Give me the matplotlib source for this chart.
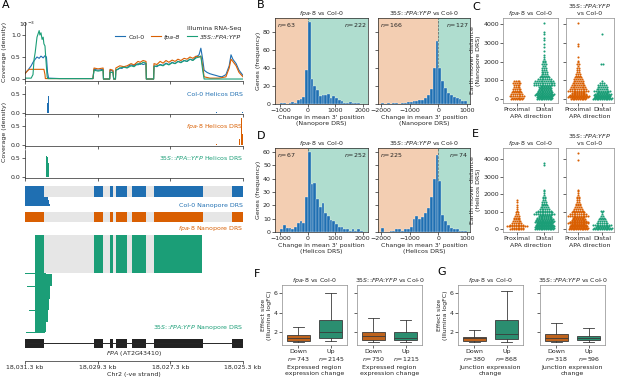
import numpy as np
import matplotlib
matplotlib.use('Agg')
import matplotlib.pyplot as plt

# ---------------- data ----------------
# panel A: positions are kb along the region (0 = 18,031.3 kb, -ve strand)
REGION_TICKS = [0, 2, 4, 6]
REGION_TICK_LABELS = ['18,031.3 kb', '18,029.3 kb', '18,027.3 kb', '18,025.3 kb']

# Illumina coverage (x 1e-3)
COL0_X = [0.00, 0.08, 0.17, 0.22, 0.28, 0.33, 0.39, 0.44, 0.50, 0.55, 0.59, 0.62, 0.65, 0.96, 1.51, 1.87,
          1.90, 2.01, 2.15, 2.16, 2.33, 2.34, 2.42, 2.44, 2.49, 2.50, 2.56, 2.61, 2.67, 2.72, 2.81, 2.86,
          2.92, 3.00, 3.06, 3.11, 3.17, 3.25, 3.33, 3.34, 3.54, 3.55, 3.63, 3.72, 3.80, 3.88, 3.96, 4.05,
          4.13, 4.21, 4.29, 4.38, 4.46, 4.54, 4.62, 4.71, 4.79, 4.84, 4.89, 4.93, 5.01, 5.09, 5.17, 5.26,
          5.34, 5.42, 5.53, 5.62, 5.67, 5.72, 5.81, 5.89, 6.00]
COL0_Y = [0.13, 0.2, 0.3, 0.38, 0.45, 0.5, 0.47, 0.52, 0.48, 0.53, 0.5, 0.15, 0.02, 0.01, 0.01, 0.01,
          0.22, 0.2, 0.22, 0.0, 0.0, 0.2, 0.18, 0.0, 0.0, 0.2, 0.22, 0.25, 0.24, 0.28, 0.26, 0.3,
          0.32, 0.3, 0.34, 0.32, 0.36, 0.33, 0.35, 0.0, 0.0, 0.3, 0.28, 0.33, 0.31, 0.36, 0.33, 0.38,
          0.35, 0.4, 0.38, 0.42, 0.4, 0.45, 0.43, 0.5, 0.55, 0.7, 0.45, 0.2, 0.15, 0.12, 0.1, 0.08,
          0.06, 0.05, 0.1, 0.3, 0.55, 0.45, 0.35, 0.2, 0.08]
FPA8_X = [0.00, 0.06, 0.11, 0.52, 0.55, 0.56, 1.87, 1.90, 2.01, 2.15, 2.16, 2.33, 2.34, 2.42, 2.44, 2.49,
          2.50, 2.61, 2.72, 2.81, 2.92, 3.00, 3.11, 3.17, 3.25, 3.33, 3.34, 3.54, 3.55, 3.63, 3.72, 3.80,
          3.88, 3.96, 4.05, 4.13, 4.21, 4.29, 4.38, 4.46, 4.54, 4.62, 4.71, 4.79, 4.84, 4.89, 4.93, 5.09,
          5.34, 5.53, 5.62, 5.67, 5.72, 5.81, 5.89, 6.00]
FPA8_Y = [0.12, 0.18, 0.22, 0.22, 0.1, 0.01, 0.01, 0.25, 0.23, 0.25, 0.0, 0.0, 0.22, 0.2, 0.0, 0.0,
          0.25, 0.3, 0.28, 0.3, 0.35, 0.32, 0.4, 0.38, 0.42, 0.4, 0.0, 0.0, 0.35, 0.33, 0.4, 0.36,
          0.42, 0.38, 0.43, 0.4, 0.45, 0.42, 0.47, 0.45, 0.5, 0.47, 0.52, 0.5, 0.52, 0.3, 0.05, 0.02,
          0.02, 0.05, 0.25, 0.45, 0.4, 0.3, 0.15, 0.05]
S35_X = [0.00, 0.17, 0.22, 0.25, 0.28, 0.33, 0.39, 0.41, 0.44, 0.47, 0.50, 0.52, 0.55, 0.57, 0.61, 0.63,
         1.87, 1.90, 2.01, 2.15, 2.16, 2.33, 2.34, 2.42, 2.44, 2.49, 2.50, 2.61, 2.72, 2.81, 2.92, 3.00,
         3.11, 3.17, 3.25, 3.33, 3.34, 3.54, 3.55, 3.63, 3.72, 3.80, 3.88, 3.96, 4.05, 4.13, 4.21, 4.29,
         4.38, 4.46, 4.54, 4.62, 4.71, 4.79, 4.84, 4.89, 4.93, 6.00]
S35_Y = [0.02, 0.02, 0.1, 0.45, 0.6, 0.95, 1.1, 1.0, 1.05, 0.9, 0.95, 0.8, 0.75, 0.5, 0.05, 0.01,
         0.01, 0.2, 0.18, 0.2, 0.0, 0.0, 0.15, 0.15, 0.0, 0.0, 0.2, 0.25, 0.27, 0.25, 0.3, 0.28,
         0.35, 0.33, 0.38, 0.36, 0.0, 0.0, 0.28, 0.3, 0.32, 0.3, 0.35, 0.32, 0.37, 0.35, 0.4, 0.37,
         0.42, 0.4, 0.45, 0.42, 0.48, 0.5, 0.52, 0.2, 0.0, 0.0]

# Helicos DRS 3' end density
COL0_HEL_X = [0.61, 0.64, 5.01, 5.26, 5.98]
COL0_HEL_Y = [0.26, 0.45, 0.02, 0.02, 0.03]
FPA8_HEL_X = [3.44, 5.28, 5.90, 5.95, 5.97, 5.99]
FPA8_HEL_Y = [0.05, 0.03, 0.15, 0.7, 0.4, 0.3]
S35_HEL_X = [0.59, 0.62, 0.65]
S35_HEL_Y = [0.55, 0.52, 0.37]

# gene model exons (kb along region)
EXONS = [(0.00, 0.52), (1.90, 2.15), (2.34, 2.42), (2.50, 2.81), (2.95, 3.33), (3.55, 4.90), (5.70, 6.00)]

# nanopore read groups: (start, end, number of reads, spliced)
COL0_READS = [(0.00, 6.00, 10, True), (0.00, 0.62, 3, False), (0.00, 0.66, 3, False), (0.00, 0.70, 2, False)]
FPA8_READS = [(0.00, 6.00, 9, True)]
S35_READS = [(0.28, 4.88, 38, True), (0.00, 0.58, 1, False), (0.28, 0.74, 12, False), (0.05, 0.70, 1, False),
             (0.28, 0.70, 12, False), (0.28, 0.66, 11, False), (0.10, 0.62, 1, False), (0.28, 0.62, 11, False),
             (0.28, 0.58, 10, False), (0.02, 0.55, 1, False)]

# panels B / D: histograms of change in mean 3' position (bins of 100 nt)
BIN_W = 100
B_FPA8_START = -1000
B_FPA8 = [1, 1, 0, 1, 2, 1, 4, 5, 7, 38, 92, 27, 20, 15, 8, 9, 10, 11, 6, 8, 6, 4, 3, 1, 1, 2, 1, 1, 1, 0]
B_S35_START = -2000
B_S35 = [1, 0, 1, 0, 1, 1, 0, 1, 1, 2, 2, 3, 3, 4, 4, 6, 10, 16, 40, 70, 40, 25, 17, 12, 9, 7, 6, 5, 3, 3]
D_FPA8_START = -1000
D_FPA8 = [2, 5, 3, 3, 2, 4, 7, 8, 7, 26, 60, 36, 37, 25, 19, 22, 14, 12, 9, 8, 6, 4, 4, 2, 2, 1, 2, 1, 2, 1]
D_S35_START = -2000
D_S35 = [3, 0, 0, 1, 1, 2, 2, 1, 2, 2, 4, 10, 12, 10, 11, 14, 18, 26, 40, 58, 38, 13, 8, 5, 3, 2, 2, 1, 1, 1]
N_B = [('63', '222'), ('166', '127')]
N_D = [('67', '252'), ('225', '74')]

# panels C / E: earth mover distance, counts per 100-unit bin
EMD_BIN = 100
C_FPA8_PROX = [14, 9, 7, 6, 5, 5, 4, 4, 5, 4]
C_FPA8_DIST = [26, 25, 22, 18, 16, 14, 13, 12, 12, 11, 8, 6, 5, 4, 4, 3, 3, 2, 3, 2, 2, 1, 1, 1, 0, 1, 0, 1,
               0, 1, 0, 1, 1, 0, 1, 1, 0, 0, 0, 0, 1]
C_S35_PROX = [26, 24, 19, 15, 12, 10, 9, 8, 7, 6, 5, 4, 3, 3, 2, 2, 2, 1, 2, 1, 1, 0, 1, 0, 0, 0, 0, 0,
              1, 1, 0, 0, 0, 0, 0, 0, 0, 0, 0, 0, 1]
C_S35_DIST = [31, 27, 20, 14, 10, 7, 6, 5, 3, 1, 0, 0, 0, 0, 0, 0, 0, 0, 2, 0, 0, 0, 0, 0, 0, 0, 0, 0,
              0, 0, 0, 0, 0, 0, 1]
E_FPA8_PROX = [15, 12, 8, 6, 5, 4, 4, 3, 2, 2, 1, 1, 1, 1, 0, 1, 1]
E_FPA8_DIST = [31, 31, 29, 25, 22, 20, 17, 14, 12, 10, 8, 6, 5, 4, 3, 3, 2, 2, 2, 1, 1, 1, 1, 0, 0, 0,
               0, 0, 0, 0, 0, 0, 0, 0, 0, 0, 1, 1]
E_S35_PROX = [32, 30, 26, 23, 19, 16, 14, 12, 10, 8, 7, 5, 4, 3, 3, 2, 2, 2, 2, 1, 1, 1, 1, 0, 0, 0,
              0, 0, 0, 0, 0, 0, 0, 0, 0, 0, 0, 0, 0, 1, 0, 0, 0, 1]
E_S35_DIST = [22, 16, 11, 7, 5, 4, 3, 2, 1, 1, 2]

# panels F / G: effect size box stats (whislo, q1, med, q3, whishi)
F_FPA8 = [(1.0, 1.08, 1.42, 1.66, 2.5), (1.05, 1.35, 2.0, 3.24, 6.04)]
F_S35 = [(1.0, 1.18, 1.62, 2.03, 3.4), (1.0, 1.18, 1.42, 1.97, 3.23)]
G_FPA8 = [(1.0, 1.1, 1.35, 1.52, 2.2), (1.0, 1.25, 1.76, 3.23, 6.2)]
G_S35 = [(1.0, 1.1, 1.42, 1.77, 2.9), (1.0, 1.18, 1.42, 1.62, 2.38)]
N_F = [('743', '2145'), ('750', '1215')]
N_G = [('380', '868'), ('318', '596')]

# ---------------- style ----------------
W, H = 617, 381
plt.rcParams.update({
    'font.family': 'DejaVu Sans', 'font.size': 4.5,
    'axes.linewidth': 0.5, 'axes.edgecolor': '.15',
    'xtick.major.size': 2, 'ytick.major.size': 2,
    'xtick.major.width': 0.5, 'ytick.major.width': 0.5,
    'xtick.major.pad': 1, 'ytick.major.pad': 1,
    'text.color': '.15', 'xtick.color': '.15', 'ytick.color': '.15', 'axes.labelcolor': '.15',
    'mathtext.default': 'it', 'axes.labelpad': 1.5, 'axes.titlepad': 2.5,
    'axes.titlesize': 4.5, 'axes.labelsize': 4.5,
})
BLUE = '#1f6fb2'
ORANGE = '#d95f02'
GREEN = '#1b9e77'
BOX_ORANGE = '#be631d'
BOX_GREEN = '#2b8e70'
FPA8_T = r'$fpa$-8'
S35_T = r'$35S$::$FPA$:$YFP$'

fig = plt.figure(figsize=(W / 100, H / 100), dpi=100)


def px_axes(l, t, r, b):
    return fig.add_axes([l / W, 1 - b / H, (r - l) / W, (b - t) / H])


def fig_text(x, y, s, **kw):
    return fig.text(x / W, 1 - y / H, s, **kw)


for lab, x, y in [('A', 2, 0), ('B', 257, 0), ('C', 472, 2), ('D', 257, 131), ('E', 472, 129),
                  ('F', 254, 269), ('G', 437, 267)]:
    fig_text(x, y, lab, fontsize=8, ha='left', va='top', color='k')

# ---------------- panel A ----------------
ax = px_axes(25, 22, 243, 81)
ax.plot(COL0_X, COL0_Y, color=BLUE, lw=0.8, label='Col-0')
ax.plot(FPA8_X, FPA8_Y, color=ORANGE, lw=0.8, label='fpa-8')
ax.plot(S35_X, S35_Y, color=GREEN, lw=0.8, label='35S::FPA:YFP')
ax.set_xlim(0, 6)
ax.set_ylim(-0.045, 1.295)
ax.set_yticks([0, 0.5, 1.0])
ax.set_xticks(REGION_TICKS)
ax.set_xticklabels([])
ax.spines[['top', 'right']].set_visible(False)
leg = ax.legend(loc='upper right', bbox_to_anchor=(0.99, 0.93), ncol=3, frameon=False,
                title='Illumina RNA-Seq', alignment='right', handlelength=1.6, handletextpad=0.5,
                columnspacing=1.0, borderaxespad=0, borderpad=0, fontsize=4.5, title_fontsize=4.5)
for t in leg.get_texts()[1:]:
    t.set_fontstyle('italic')
fig_text(19, 24, r'$\mathregular{10^{-3}}$', ha='left', va='center')
fig_text(5, 52, 'Coverage (density)', rotation=90, ha='center', va='center')
fig_text(5, 132, 'Coverage (density)', rotation=90, ha='center', va='center')

hel = [(COL0_HEL_X, COL0_HEL_Y, BLUE, 'Col-0 Helicos DRS', 86),
       (FPA8_HEL_X, FPA8_HEL_Y, ORANGE, FPA8_T + ' Helicos DRS', 118),
       (S35_HEL_X, S35_HEL_Y, GREEN, r'$35S$::$FPA$::$YFP$ Helicos DRS', 150)]
for xs, ys, c, lab, top in hel:
    a = px_axes(25, top, 243, top + 28)
    a.bar(xs, ys, width=0.025, color=c, lw=0)
    a.set_xlim(0, 6)
    a.set_ylim(-0.026, 0.71)
    a.set_yticks([0, 0.5])
    a.set_xticks(REGION_TICKS)
    a.set_xticklabels([])
    a.spines[['top', 'right']].set_visible(False)
    a.text(1.0, 0.7, lab, transform=a.transAxes, ha='right', va='center', color=c)

nano = [(COL0_READS, BLUE, 186, 206, 'Col-0 Nanopore DRS', 205),
        (FPA8_READS, ORANGE, 212, 222, FPA8_T + ' Nanopore DRS', 228),
        (S35_READS, GREEN, 235, 333, r'$35S$::$FPA$:$YFP$ Nanopore DRS', 327)]
for reads, c, top, bot, lab, ly in nano:
    a = px_axes(25, top, 243, bot)
    row = 0
    for s, e, n, spliced in reads:
        if spliced:
            a.broken_barh([(s, e - s)], (row, n), color='#e6e6e6', lw=0)
            segs = [(max(s, x0), min(e, x1) - max(s, x0)) for x0, x1 in EXONS if min(e, x1) > max(s, x0)]
            a.broken_barh(segs, (row, n), color=c, lw=0)
        else:
            a.broken_barh([(s, e - s)], (row, n), color=c, lw=0)
        row += n
    a.set_xlim(0, 6)
    a.set_ylim(row, 0)
    a.axis('off')
    fig_text(243, ly, lab, ha='right', va='center', color=c)

a = px_axes(25, 336, 243, 361)
a.plot([0, 6], [0.72, 0.72], color='.15', lw=0.7)
a.broken_barh([(x0, x1 - x0) for x0, x1 in EXONS], (0.54, 0.36), color='#222222', lw=0)
a.text(3.0, 0.28, r'$FPA$ (AT2G43410)', ha='center', va='center')
a.set_xlim(0, 6)
a.set_ylim(0, 1)
a.set_xticks(REGION_TICKS)
a.set_xticklabels(REGION_TICK_LABELS)
a.set_yticks([])
a.spines[['top', 'right', 'left']].set_visible(False)
a.set_xlabel('Chr2 (-ve strand)', labelpad=1)


# ---------------- panels B / D ----------------
def hist_panel(a, start, counts, xlim, ylim, yticks, xticks, n_pair):
    edges = start + BIN_W * np.arange(len(counts) + 1)
    a.axvspan(xlim[0], 0, color=ORANGE, alpha=0.3, lw=0, zorder=0)
    a.axvspan(0, xlim[1], color=GREEN, alpha=0.35, lw=0, zorder=0)
    a.axvline(0, color='.35', ls='--', lw=0.5, zorder=0.5)
    a.bar(edges[:-1], counts, width=BIN_W, align='edge', color=BLUE, edgecolor='white', lw=0.2, zorder=1)
    a.set_xlim(*xlim)
    a.set_ylim(*ylim)
    a.set_yticks(yticks)
    a.set_xticks(xticks)
    a.text(0.02, 0.92, r'$n$=' + n_pair[0], transform=a.transAxes, ha='left', va='center')
    a.text(0.98, 0.92, r'$n$=' + n_pair[1], transform=a.transAxes, ha='right', va='center')


for row, (t, b, data, ylim, yticks, nn, lab2) in enumerate([
        (18, 103.5, [(B_FPA8_START, B_FPA8), (B_S35_START, B_S35)], (0, 96), [0, 20, 40, 60, 80], N_B,
         '(Nanopore DRS)'),
        (148, 232, [(D_FPA8_START, D_FPA8), (D_S35_START, D_S35)], (0, 63), [0, 10, 20, 30, 40, 50, 60], N_D,
         '(Helicos DRS)')]):
    a1 = px_axes(275, t, 368, b)
    hist_panel(a1, data[0][0], data[0][1], (-1200, 2200), ylim, yticks, [-1000, 0, 1000, 2000], nn[0])
    a1.set_title(FPA8_T + ' vs Col-0')
    a1.set_ylabel('Genes (frequency)')
    a1.set_xlabel("Change in mean 3' position\n" + lab2)
    a2 = px_axes(378, t, 470, b)
    hist_panel(a2, data[1][0], data[1][1], (-2100, 1100), ylim, yticks, [-2000, -1000, 0, 1000], nn[1])
    a2.set_yticklabels([])
    a2.set_title(S35_T + ' vs Col-0')
    a2.set_xlabel("Change in mean 3' position\n" + lab2)


# ---------------- panels C / E ----------------
def swarm(a, xpos, counts, color, width_px):
    dx = 1.8 * 2.0 / width_px
    maxn = 12
    xs, ys = [], []
    for b, c in enumerate(counts):
        if c == 0:
            continue
        k = -(-c // maxn)
        per = -(-c // k)
        for r in range(k):
            m = min(per, c - r * per)
            shift = 0.5 * dx * (r % 2)
            xs.extend(xpos + shift + (np.arange(m) - (m - 1) / 2) * dx)
            ys.extend([b * EMD_BIN + (r + 0.5) * EMD_BIN / k] * m)
    a.plot(xs, ys, 'o', ms=1.5, mew=0, color=color)


for t, b, ylim, sets, lab in [
        (18, 103, (-213, 4320), [(C_FPA8_PROX, C_FPA8_DIST), (C_S35_PROX, C_S35_DIST)], '(Nanopore DRS)'),
        (148, 232, (-171, 4630), [(E_FPA8_PROX, E_FPA8_DIST), (E_S35_PROX, E_S35_DIST)], '(Helicos DRS)')]:
    for i, (l, r) in enumerate([(503, 558), (566, 614)]):
        a = px_axes(l, t, r, b)
        swarm(a, 0, sets[i][0], ORANGE, r - l)
        swarm(a, 1, sets[i][1], GREEN, r - l)
        a.set_xlim(-0.5, 1.5)
        a.set_ylim(*ylim)
        a.set_yticks([0, 1000, 2000, 3000, 4000])
        a.set_xticks([0, 1])
        a.set_xticklabels(['Proximal', 'Distal'])
        a.set_xlabel('APA direction')
        for sp in a.spines.values():
            sp.set_color('.55')
        if i == 0:
            a.set_title(FPA8_T + ' vs Col-0')
            a.set_ylabel('Earth mover distance\n' + lab)
        else:
            a.set_yticklabels([])
            a.set_title(S35_T + '\nvs Col-0')

# ---------------- panels F / G ----------------
for boxes_sets, n_sets, xlab, lefts in [
        ((F_FPA8, F_S35), N_F, 'Expressed region\nexpression change', (282, 357)),
        ((G_FPA8, G_S35), N_G, 'Junction expression\nchange', (458, 540))]:
    for i in range(2):
        l = lefts[i]
        a = px_axes(l, 285, l + 65, 345)
        stats = [dict(whislo=s[0], q1=s[1], med=s[2], q3=s[3], whishi=s[4]) for s in boxes_sets[i]]
        bp = a.bxp(stats, positions=[0, 1], widths=0.7, patch_artist=True, showfliers=False,
                   boxprops=dict(edgecolor='#3a3a3a', lw=0.6),
                   whiskerprops=dict(color='#3a3a3a', lw=0.6),
                   capprops=dict(color='#3a3a3a', lw=0.6),
                   medianprops=dict(color='#3a3a3a', lw=0.6))
        for patch, fc in zip(bp['boxes'], [BOX_ORANGE, BOX_GREEN]):
            patch.set_facecolor(fc)
        a.set_xlim(-0.5, 1.5)
        a.set_ylim(0.67, 6.82)
        a.set_yticks([2, 4, 6])
        a.set_xticks([0, 1])
        a.set_xticklabels(['Down\n$n$=' + n_sets[i][0], 'Up\n$n$=' + n_sets[i][1]])
        a.set_xlabel(xlab)
        for sp in a.spines.values():
            sp.set_color('.55')
        if i == 0:
            a.set_title(FPA8_T + ' vs Col-0')
            a.set_ylabel('Effect size\n(Illumina logFC)')
        else:
            a.set_yticklabels([])
            a.set_title(S35_T + ' vs Col-0')

fig.savefig('out.png', dpi=100)
